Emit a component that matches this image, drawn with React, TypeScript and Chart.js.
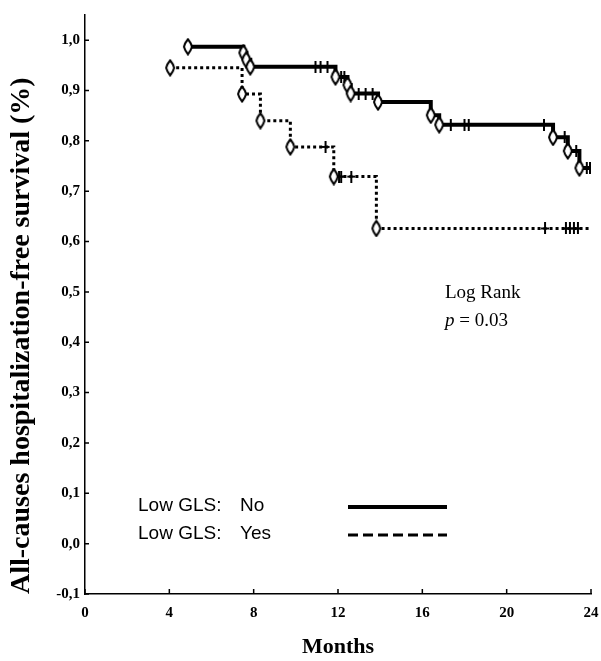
import React, { useEffect, useRef } from "react";
import { Chart, registerables } from "chart.js";

Chart.register(...registerables);

// ---- Data ----
const xTicks = [0, 4, 8, 12, 16, 20, 24];
const yTicks = [-0.1, 0, 0.1, 0.2, 0.3, 0.4, 0.5, 0.6, 0.7, 0.8, 0.9, 1.0];

// Low GLS: No (solid)
const noTimes = [4.88, 7.51, 7.65, 7.84, 11.88, 12.45, 12.6, 13.9, 16.4, 16.8, 22.2, 22.9, 23.45, 24.0];
const noSurv = [0.987, 0.975, 0.961, 0.947, 0.927, 0.911, 0.894, 0.877, 0.851, 0.832, 0.807, 0.78, 0.746, 0.746];
const noCensored = [10.93, 11.17, 11.5, 12.15, 12.3, 12.98, 13.31, 13.64, 17.35, 18.0, 18.2, 21.77, 22.75, 23.3, 23.8, 23.95];

// Low GLS: Yes (dotted)
const yesTimes = [4.04, 7.45, 8.32, 9.74, 11.8, 13.82, 24.0];
const yesSurv = [0.945, 0.893, 0.84, 0.788, 0.729, 0.626, 0.626];
const yesCensored = [11.41, 12.05, 12.15, 12.63, 21.82, 22.81, 23.0, 23.19, 23.38];

const legendPrefix = "Low GLS:";
const legendNames = ["No", "Yes"];
const xTitle = "Months";
const yTitle = "All-causes hospitalization-free survival (%)";

function survAt(times: number[], surv: number[], t: number): number {
  let s = surv[0];
  for (let i = 0; i < times.length; i++) {
    if (times[i] <= t) s = surv[i];
  }
  return s;
}

function makeDiamond(): HTMLCanvasElement {
  const c = document.createElement("canvas");
  c.width = 12;
  c.height = 18;
  const g = c.getContext("2d")!;
  g.beginPath();
  g.moveTo(6, 1.5);
  g.quadraticCurveTo(9, 5, 10, 9);
  g.quadraticCurveTo(9, 13, 6, 16.5);
  g.quadraticCurveTo(3, 13, 2, 9);
  g.quadraticCurveTo(3, 5, 6, 1.5);
  g.closePath();
  g.fillStyle = "#fff";
  g.fill();
  g.lineWidth = 2;
  g.strokeStyle = "#000";
  g.stroke();
  return c;
}

function makePlus(): HTMLCanvasElement {
  const c = document.createElement("canvas");
  c.width = 10;
  c.height = 12;
  const g = c.getContext("2d")!;
  g.strokeStyle = "#000";
  g.lineWidth = 2;
  g.beginPath();
  g.moveTo(5, 0);
  g.lineTo(5, 12);
  g.moveTo(1, 6);
  g.lineTo(9, 6);
  g.stroke();
  return c;
}

const overlayPlugin = {
  id: "overlay",
  afterDraw(chart: any) {
    const ctx = chart.ctx as CanvasRenderingContext2D;
    const xs = chart.scales.x;
    const ys = chart.scales.y;
    ctx.save();
    // inward tick marks
    ctx.strokeStyle = "#000";
    ctx.lineWidth = 1.5;
    const axisY = ys.getPixelForValue(ys.min);
    const axisX = xs.getPixelForValue(xs.min);
    ctx.beginPath();
    xTicks.forEach((t) => {
      const px = xs.getPixelForValue(t);
      ctx.moveTo(px, axisY);
      ctx.lineTo(px, axisY - 5);
    });
    yTicks.forEach((t) => {
      const py = ys.getPixelForValue(t);
      ctx.moveTo(axisX, py);
      ctx.lineTo(axisX + 4, py);
    });
    ctx.stroke();

    // legend
    ctx.fillStyle = "#000";
    ctx.textBaseline = "middle";
    ctx.font = "19px 'Liberation Sans', Arial, sans-serif";
    const rows = [506, 534];
    rows.forEach((y, i) => {
      ctx.fillText(legendPrefix, 138, y);
      ctx.fillText(legendNames[i], 240, y);
    });
    ctx.beginPath();
    ctx.lineWidth = 4;
    ctx.setLineDash([]);
    ctx.moveTo(348, rows[0] + 1);
    ctx.lineTo(447, rows[0] + 1);
    ctx.stroke();
    ctx.beginPath();
    ctx.lineWidth = 3;
    ctx.setLineDash([10, 5]);
    ctx.moveTo(348, rows[1] + 1);
    ctx.lineTo(447, rows[1] + 1);
    ctx.stroke();
    ctx.setLineDash([]);

    // Log rank annotation
    ctx.font = "19px 'Liberation Serif', 'Times New Roman', serif";
    ctx.fillText("Log Rank", 445, 293);
    ctx.font = "italic 19px 'Liberation Serif', 'Times New Roman', serif";
    ctx.fillText("p", 445, 321);
    const pw = ctx.measureText("p").width;
    ctx.font = "19px 'Liberation Serif', 'Times New Roman', serif";
    ctx.fillText(" = 0.03", 445 + pw, 321);
    ctx.restore();
  },
};

export default function App() {
  const ref = useRef<HTMLCanvasElement | null>(null);

  useEffect(() => {
    if (!ref.current) return;
    const diamond = makeDiamond();
    const plus = makePlus();

    const noEvents = noTimes.slice(0, -1).map((t, i) => ({ x: t, y: noSurv[i] }));
    const yesEvents = yesTimes.slice(0, -1).map((t, i) => ({ x: t, y: yesSurv[i] }));
    const noCens = noCensored.map((t) => ({ x: t, y: survAt(noTimes, noSurv, t) }));
    const yesCens = yesCensored.map((t) => ({ x: t, y: survAt(yesTimes, yesSurv, t) }));
    const noLine = noTimes.map((t, i) => ({ x: t, y: noSurv[i] }));
    const yesLine = yesTimes.map((t, i) => ({ x: t, y: yesSurv[i] }));

    const serifBold = { family: "'Liberation Serif', 'Times New Roman', serif", weight: "bold" as const };

    const chart = new Chart(ref.current, {
      type: "line",
      data: {
        datasets: [
          { label: "noEvents", data: noEvents, showLine: false, pointStyle: diamond as any, pointRadius: 6 },
          { label: "yesEvents", data: yesEvents, showLine: false, pointStyle: diamond as any, pointRadius: 6 },
          { label: "noCens", data: noCens, showLine: false, pointStyle: plus as any, pointRadius: 5 },
          { label: "yesCens", data: yesCens, showLine: false, pointStyle: plus as any, pointRadius: 5 },
          {
            label: "Low GLS: No",
            data: noLine,
            stepped: "before",
            borderColor: "#000",
            borderWidth: 4,
            pointRadius: 0,
            fill: false,
          },
          {
            label: "Low GLS: Yes",
            data: yesLine,
            stepped: "before",
            borderColor: "#000",
            borderWidth: 3,
            borderDash: [3, 3],
            borderCapStyle: "butt",
            pointRadius: 0,
            fill: false,
          },
        ],
      },
      options: {
        animation: false,
        responsive: false,
        events: [],
        layout: { padding: { top: 15, right: 10, left: 0, bottom: 0 } },
        plugins: {
          legend: { display: false },
          tooltip: { enabled: false },
        },
        scales: {
          x: {
            type: "linear",
            min: 0,
            max: 24,
            afterBuildTicks: (s: any) => {
              s.ticks = xTicks.map((v) => ({ value: v }));
            },
            afterFit: (s: any) => {
              s.height = 67;
              s.paddingLeft = 0;
              s.paddingRight = 0;
            },
            grid: { display: false, drawTicks: false },
            border: { display: true, color: "#000", width: 1.5 },
            ticks: {
              color: "#000",
              padding: 10,
              font: { ...serifBold, size: 15 },
              callback: (v: any) => String(v),
            },
            title: {
              display: true,
              text: xTitle,
              color: "#000",
              font: { ...serifBold, size: 22 },
              padding: { top: 3, bottom: 0 },
            },
          },
          y: {
            type: "linear",
            min: -0.1,
            max: 1.05,
            afterBuildTicks: (s: any) => {
              s.ticks = yTicks.map((v) => ({ value: v }));
            },
            afterFit: (s: any) => {
              s.width = 85;
              s.paddingTop = 0;
              s.paddingBottom = 0;
            },
            grid: { display: false, drawTicks: false },
            border: { display: true, color: "#000", width: 1.5 },
            ticks: {
              color: "#000",
              padding: 5,
              font: { ...serifBold, size: 15 },
              callback: (v: any) => Number(v).toFixed(1).replace(".", ","),
            },
            title: {
              display: true,
              text: yTitle,
              align: "start",
              color: "#000",
              font: { ...serifBold, size: 28 },
              padding: { top: 5, bottom: 0 },
            },
          },
        },
      },
      plugins: [overlayPlugin],
    } as any);

    return () => chart.destroy();
  }, []);

  return (
    <div style={{ position: "absolute", left: 0, top: 0, width: 601, height: 661, background: "#fff" }}>
      <canvas ref={ref} width={601} height={661} style={{ display: "block" }} />
    </div>
  );
}
